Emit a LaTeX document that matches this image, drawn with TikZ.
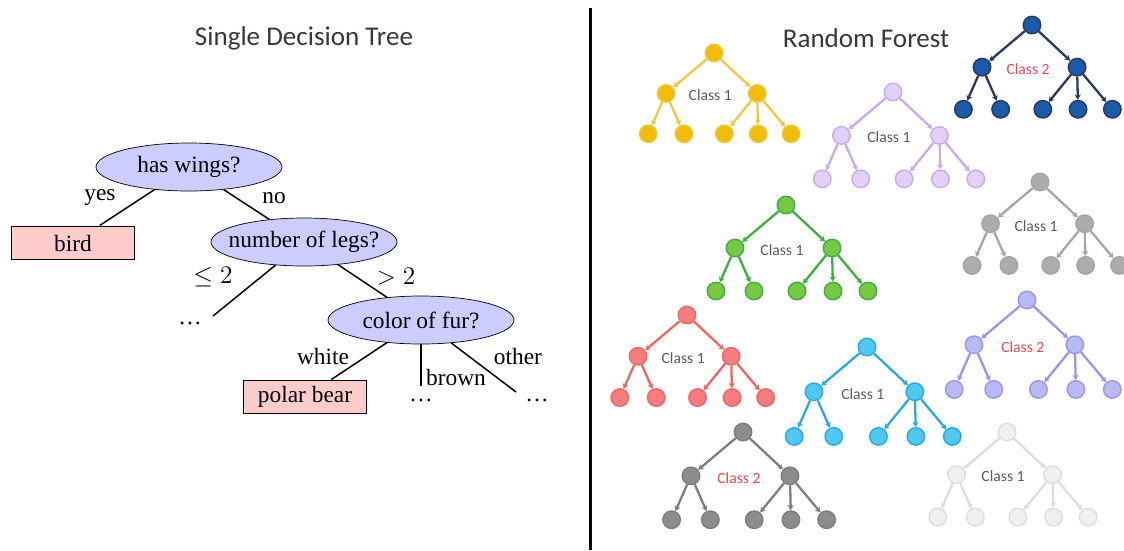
\documentclass[tikz,border=0pt]{standalone}
\usepackage{fontspec}
\setmainfont{Liberation Serif}
\newfontfamily\titlefont{Carlito}
\usepackage{tikz}
\usetikzlibrary{shapes.geometric, arrows.meta, positioning}
\definecolor{qfill}{RGB}{204,204,255}
\definecolor{afill}{RGB}{255,204,204}
\definecolor{titlegray}{RGB}{55,55,55}
\definecolor{lblgray}{RGB}{90,90,90}
\definecolor{lblred}{RGB}{240,70,80}
\definecolor{ylwfill}{RGB}{242,188,10}
\definecolor{ylwline}{RGB}{240,200,60}
\definecolor{navyfill}{RGB}{28,90,170}
\definecolor{navyline}{RGB}{40,55,100}
\definecolor{lavfill}{RGB}{226,208,248}
\definecolor{lavline}{RGB}{200,170,240}
\definecolor{grnfill}{RGB}{120,200,70}
\definecolor{grnline}{RGB}{60,175,60}
\definecolor{grayfill}{RGB}{172,172,172}
\definecolor{grayline}{RGB}{165,165,165}
\definecolor{redfill}{RGB}{245,125,125}
\definecolor{redline}{RGB}{240,100,100}
\definecolor{cyanfill}{RGB}{80,200,240}
\definecolor{cyanline}{RGB}{40,170,225}
\definecolor{perifill}{RGB}{185,185,245}
\definecolor{periline}{RGB}{150,150,240}
\definecolor{dgrayfill}{RGB}{140,140,140}
\definecolor{dgrayline}{RGB}{125,125,125}
\definecolor{palefill}{RGB}{240,240,240}
\definecolor{paleline}{RGB}{220,220,220}
\tikzstyle{question} = [ellipse, draw=black, fill=qfill, minimum width=37.2mm, minimum height=9.6mm, inner xsep=-2.5mm, inner ysep=0pt, font=\fontsize{13.3}{16}\selectfont]
\tikzstyle{answer} = [rectangle, draw=black, line width=1.1pt, fill=afill, minimum width=24.6mm, minimum height=6.6mm, inner sep=0pt, font=\fontsize{13.3}{16}\selectfont]
\tikzstyle{branch} = [line width=0.85pt]
\tikzstyle{edgelbl} = [inner sep=1pt, font=\fontsize{13.3}{16}\selectfont]
\tikzstyle{heading} = [text=titlegray, font=\titlefont\fontsize{15.4}{18}\selectfont]
\tikzstyle{dot} = [circle, minimum size=3.5mm, inner sep=0pt, line width=0.8pt]
\tikzstyle{twig} = [line width=1.3pt, -{Stealth[length=3pt,width=3.5pt]}]
\tikzstyle{classlbl} = [font=\titlefont\fontsize{8.9}{10}\selectfont]
% one small tree of the forest: name, root, scale, line, fill, label, label colour
\newcommand{\minitree}[7]{%
  \begin{scope}[shift={(#2)}, scale=#3]
    \node[dot, draw=#4, fill=#5] (#1r) at (0,0) {};
    \node[dot, draw=#4, fill=#5] (#1a) at (-51,43) {};
    \node[dot, draw=#4, fill=#5] (#1b) at (46,43) {};
    \foreach \x [count=\i] in {-70,-32,11,47,82}
      \node[dot, draw=#4, fill=#5] (#1\i) at (\x,86) {};
    \foreach \c in {a,b} \draw[twig, #4] (#1r) -- (#1\c);
    \foreach \i in {1,2} \draw[twig, #4] (#1a) -- (#1\i);
    \foreach \i in {3,4,5} \draw[twig, #4] (#1b) -- (#1\i);
    \node[classlbl, text=#7] (#1lbl) at (-4,45) {#6};
  \end{scope}}

\begin{document}
\begin{tikzpicture}[x=0.2mm, y=-0.2mm]
    \useasboundingbox (0,0) rectangle (1124,550);

    % single tree
    \node[heading] (single) at (304,38) {Single Decision Tree};
    \node[question] (wings) at (189,167) {has wings?};
    \node[answer] (bird) at (73,243) {bird};
    \node[question] (legs) at (304,242) {number of legs?};
    \node[question] (fur) at (421,320) {color of fur?};
    \node[answer] (bear) at (305,397) {polar bear};
    \coordinate (fewend) at (213,316);
    \coordinate (brownend) at (421,386);
    \coordinate (otherend) at (516,392);
    \node[edgelbl] (fewdots) at (190,323) {\dots};
    \node[edgelbl] (browndots) at (421,400) {\dots};
    \node[edgelbl] (otherdots) at (537,400) {\dots};

    \draw[branch] (wings) -- (bird);
    \draw[branch] (wings) -- (legs);
    \draw[branch] (legs) -- (fewend);
    \draw[branch] (legs) -- (fur);
    \draw[branch] (fur) -- (bear);
    \draw[branch] (fur.south) -- (brownend);
    \draw[branch] (fur) -- (otherend);

    \node[edgelbl] (yes) at (100,198) {yes};
    \node[edgelbl] (no) at (274,198) {no};
    \node[edgelbl] (le) at (213,277) {$\leq 2$};
    \node[edgelbl] (gt) at (396,277) {$> 2$};
    \node[edgelbl] (white) at (323,356) {white};
    \node[edgelbl] (brown) at (456,377) {brown};
    \node[edgelbl] (other) at (518,356) {other};

    \draw[line width=0.6mm] (590,8) -- (590,550);

    % forest
    \node[heading] (forest) at (866,38) {Random Forest};
    \minitree{yl}{714,53}{0.94}{ylwline}{ylwfill}{Class 1}{lblgray}
    \minitree{nv}{1032,25}{0.98}{navyline}{navyfill}{Class 2}{lblred}
    \minitree{lv}{893,92}{1.01}{lavline}{lavfill}{Class 1}{lblgray}
    \minitree{gn}{786,205}{1.0}{grnline}{grnfill}{Class 1}{lblgray}
    \minitree{gy}{1040,182}{0.97}{grayline}{grayfill}{Class 1}{lblgray}
    \minitree{rd}{687,315}{0.96}{redline}{redfill}{Class 1}{lblgray}
    \minitree{cy}{867,347}{1.04}{cyanline}{cyanfill}{Class 1}{lblgray}
    \minitree{pw}{1027,300}{1.04}{periline}{perifill}{Class 2}{lblred}
    \minitree{dg}{743,432}{1.02}{dgrayline}{dgrayfill}{Class 2}{lblred}
    \minitree{pl}{1007,432}{0.99}{paleline}{palefill}{Class 1}{lblgray}
\end{tikzpicture}
\end{document}
